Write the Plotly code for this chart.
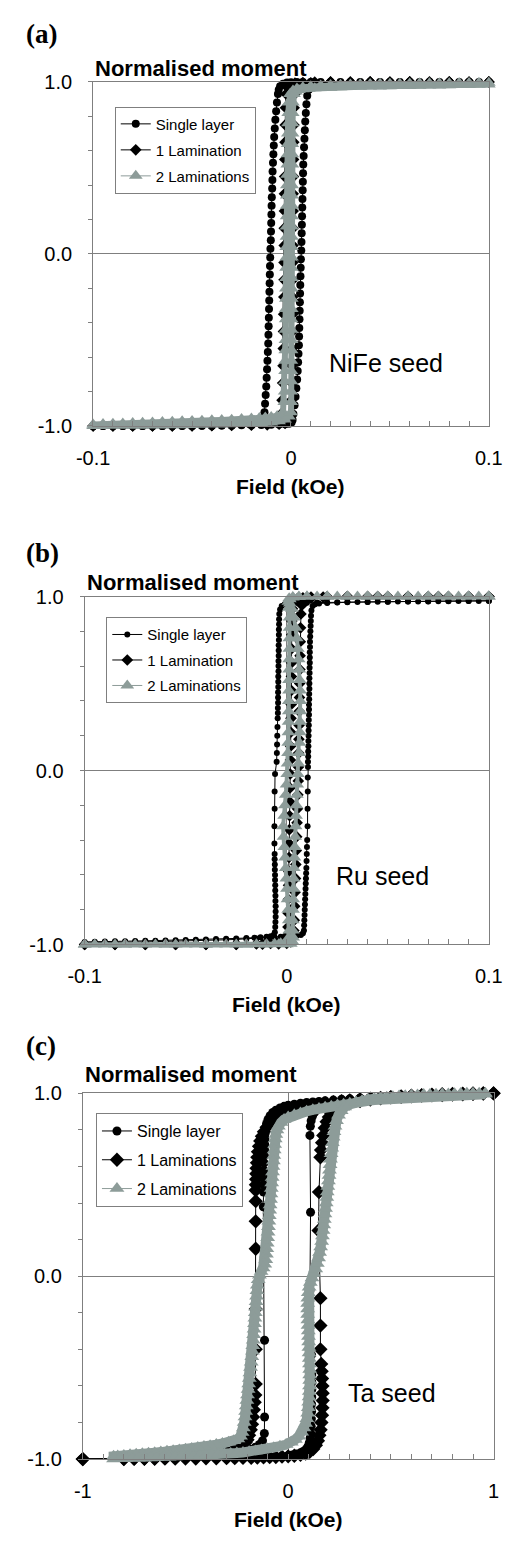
import plotly.graph_objects as go

W, H = 516, 1543

# ---------------- data: field (kOe), normalised moment ----------------
SERIES_AB = ["Single layer", "1 Lamination", "2 Laminations"]
SERIES_C = ["Single layer", "1 Laminations", "2 Laminations"]
SEED_LABELS = ["NiFe seed", "Ru seed", "Ta seed"]
X_TICKS_AB = [-0.1, 0.0, 0.1]
X_TICKTEXT_AB = ["-0.1", "0", "0.1"]
X_TICKS_C = [-1.0, 0.0, 1.0]
X_TICKTEXT_C = ["-1", "0", "1"]
Y_TICKS = [-1.0, 0.0, 1.0]
Y_TICKTEXT = ["-1.0", "0.0", "1.0"]

# ---- (a) NiFe seed ----
A_SINGLE_DOWN = [(0.100,1.000),(0.095,1.000),(0.090,1.000),(0.085,1.000),(0.080,1.000),(0.075,1.000),(0.070,1.000),(0.065,1.000),(0.060,1.000),(0.055,1.000),(0.050,1.000),(0.045,1.000),(0.040,1.000),(0.035,1.000),(0.030,1.000),(0.025,1.000),(0.020,1.000),(0.015,1.000),(0.010,1.000),(0.006,1.000),(0.003,1.000),(0.000,0.999),(-0.002,0.997),(-0.004,0.990),(-0.0055,0.975),(-0.0062,0.955),
    (-0.0066,0.93),(-0.0071,0.88),(-0.0075,0.83),(-0.0079,0.78),(-0.0082,0.73),(-0.0085,0.68),(-0.0087,0.63),(-0.0089,0.58),(-0.0091,0.53),(-0.0093,0.48),(-0.0094,0.43),(-0.0095,0.38),(-0.0097,0.33),(-0.0098,0.28),(-0.0099,0.23),(-0.0100,0.18),(-0.0101,0.13),(-0.0102,0.08),(-0.0104,0.03),(-0.0105,-0.02),(-0.0106,-0.07),(-0.0107,-0.12),(-0.0108,-0.17),(-0.0109,-0.22),(-0.0110,-0.27),(-0.0111,-0.32),(-0.0112,-0.37),(-0.0113,-0.42),(-0.0114,-0.47),(-0.0115,-0.52),(-0.0117,-0.57),(-0.0119,-0.62),(-0.0121,-0.67),(-0.0123,-0.72),(-0.0125,-0.77),(-0.0128,-0.82),(-0.0131,-0.87),(-0.0134,-0.92),
    (-0.0140,-0.950),(-0.0150,-0.968),(-0.0175,-0.980),(-0.0210,-0.988),(-0.0250,-0.992),(-0.0300,-0.995),(-0.0350,-0.997),(-0.0400,-0.998),(-0.0450,-0.999),(-0.0500,-1.000),(-0.0550,-1.000),(-0.0600,-1.000),(-0.0650,-1.000),(-0.0700,-1.000),(-0.0750,-1.000),(-0.0800,-1.000),(-0.0850,-1.000),(-0.0900,-1.000),(-0.0950,-1.000),(-0.1000,-1.000)]
A_SINGLE_UP = [(-0.100,-1.000),(-0.095,-1.000),(-0.090,-1.000),(-0.085,-1.000),(-0.080,-1.000),(-0.075,-1.000),(-0.070,-1.000),(-0.065,-1.000),(-0.060,-0.999),(-0.055,-0.999),(-0.050,-0.999),(-0.045,-0.998),(-0.040,-0.998),(-0.035,-0.997),(-0.030,-0.997),(-0.025,-0.996),(-0.020,-0.995),(-0.015,-0.994),(-0.010,-0.993),(-0.006,-0.992),(-0.003,-0.990),(-0.001,-0.987),(0.0003,-0.980),(0.0008,-0.965),
    (0.0012,-0.93),(0.0018,-0.88),(0.0023,-0.83),(0.0027,-0.78),(0.0031,-0.73),(0.0034,-0.68),(0.0036,-0.63),(0.0038,-0.58),(0.0040,-0.53),(0.0041,-0.48),(0.0042,-0.43),(0.0043,-0.38),(0.0044,-0.33),(0.0045,-0.28),(0.0046,-0.23),(0.0047,-0.18),(0.0048,-0.13),(0.0049,-0.08),(0.0050,-0.03),(0.0052,0.02),(0.0053,0.07),(0.0054,0.12),(0.0055,0.17),(0.0056,0.22),(0.0057,0.27),(0.0058,0.32),(0.0059,0.37),(0.0060,0.42),(0.0061,0.47),(0.0062,0.52),(0.0064,0.57),(0.0066,0.62),(0.0068,0.67),(0.0070,0.72),(0.0072,0.77),(0.0075,0.82),(0.0078,0.87),(0.0082,0.92),
    (0.0090,0.955),(0.0110,0.975),(0.0150,0.985),(0.0200,0.990),(0.0300,0.994),(0.0400,0.996),(0.0500,0.998),(0.0600,0.999),(0.0700,1.000),(0.0800,1.000),(0.0900,1.000),(0.1000,1.000)]
A_LAM1_DOWN = [(0.100,1.0),(0.090,1.0),(0.080,1.0),(0.070,1.0),(0.060,1.0),(0.050,1.0),(0.040,1.0),(0.030,1.0),(0.020,1.0),(0.012,0.999),(0.006,0.997),(0.002,0.993),(0.000,0.985),(-0.0015,0.965),(-0.0025,0.93),
    (-0.0028,0.85),(-0.0029,0.75),(-0.0030,0.65),(-0.0031,0.55),(-0.0032,0.45),(-0.0033,0.35),(-0.0033,0.25),(-0.0034,0.15),(-0.0034,0.05),(-0.0035,-0.05),(-0.0035,-0.15),(-0.0036,-0.25),(-0.0037,-0.35),(-0.0038,-0.45),(-0.0039,-0.55),(-0.0040,-0.65),(-0.0042,-0.75),(-0.0045,-0.85),
    (-0.0050,-0.93),(-0.0060,-0.96),(-0.008,-0.975),(-0.012,-0.985),(-0.020,-0.99),(-0.030,-0.994),(-0.040,-0.996),(-0.050,-0.998),(-0.060,-0.999),(-0.070,-1.0),(-0.080,-1.0),(-0.090,-1.0),(-0.100,-1.0)]
A_LAM1_UP = [(-0.100,-1.0),(-0.090,-1.0),(-0.080,-1.0),(-0.070,-1.0),(-0.060,-1.0),(-0.050,-0.999),(-0.040,-0.998),(-0.030,-0.997),(-0.020,-0.995),(-0.012,-0.993),(-0.006,-0.99),(-0.003,-0.985),(-0.001,-0.97),(0.000,-0.94),
    (0.0002,-0.85),(0.0004,-0.75),(0.0005,-0.65),(0.0006,-0.55),(0.0007,-0.45),(0.0008,-0.35),(0.0008,-0.25),(0.0009,-0.15),(0.0009,-0.05),(0.0010,0.05),(0.0010,0.15),(0.0011,0.25),(0.0011,0.35),(0.0012,0.45),(0.0013,0.55),(0.0014,0.65),(0.0015,0.75),(0.0016,0.85),
    (0.0020,0.93),(0.0030,0.965),(0.005,0.985),(0.010,0.995),(0.020,0.999),(0.040,1.0),(0.060,1.0),(0.080,1.0),(0.100,1.0)]
A_LAM2_DOWN = [(0.100,0.995),(0.095,0.995),(0.090,0.994),(0.085,0.994),(0.080,0.993),(0.075,0.993),(0.070,0.992),(0.065,0.992),(0.060,0.991),(0.055,0.990),(0.050,0.990),(0.045,0.989),(0.040,0.988),(0.035,0.987),(0.030,0.986),(0.025,0.984),(0.020,0.982),(0.015,0.979),(0.010,0.975),(0.006,0.970),(0.003,0.962),(0.001,0.950),(-0.0005,0.93),
    (-0.0012,0.88),(-0.0014,0.82),(-0.0015,0.76),(-0.0016,0.70),(-0.0017,0.64),(-0.0018,0.58),(-0.0019,0.52),(-0.0020,0.46),(-0.0021,0.40),(-0.0021,0.34),(-0.0022,0.28),(-0.0022,0.22),(-0.0023,0.16),(-0.0023,0.10),(-0.0024,0.04),(-0.0024,-0.02),(-0.0025,-0.08),(-0.0025,-0.14),(-0.0026,-0.20),(-0.0026,-0.26),(-0.0027,-0.32),(-0.0027,-0.38),(-0.0028,-0.44),(-0.0028,-0.50),(-0.0029,-0.56),(-0.0029,-0.62),(-0.0030,-0.68),(-0.0031,-0.74),(-0.0032,-0.80),(-0.0034,-0.86),
    (-0.0040,-0.92),(-0.0050,-0.935),(-0.0070,-0.942),(-0.0100,-0.947),(-0.0130,-0.951),(-0.0160,-0.954),(-0.0200,-0.957),(-0.0250,-0.960),(-0.0300,-0.963),(-0.0350,-0.965),(-0.0400,-0.967),(-0.0450,-0.969),(-0.0500,-0.971),(-0.0550,-0.973),(-0.0600,-0.975),(-0.0650,-0.977),(-0.0700,-0.979),(-0.0750,-0.981),(-0.0800,-0.983),(-0.0850,-0.985),(-0.0900,-0.987),(-0.0950,-0.989),(-0.1000,-0.991)]
A_LAM2_UP = [(-0.1000,-1.000),(-0.0950,-1.000),(-0.0900,-0.999),(-0.0850,-0.999),(-0.0800,-0.998),(-0.0750,-0.998),(-0.0700,-0.997),(-0.0650,-0.997),(-0.0600,-0.996),(-0.0550,-0.995),(-0.0500,-0.994),(-0.0450,-0.993),(-0.0400,-0.992),(-0.0350,-0.991),(-0.0300,-0.990),(-0.0250,-0.988),(-0.0200,-0.986),(-0.0150,-0.983),(-0.0100,-0.979),(-0.0060,-0.973),(-0.0030,-0.962),(-0.0010,-0.945),(0.0000,-0.92),
    (0.0001,-0.86),(0.0001,-0.80),(0.0002,-0.74),(0.0002,-0.68),(0.0002,-0.62),(0.0003,-0.56),(0.0003,-0.50),(0.0003,-0.44),(0.0003,-0.38),(0.0004,-0.32),(0.0004,-0.26),(0.0004,-0.20),(0.0004,-0.14),(0.0005,-0.08),(0.0005,-0.02),(0.0005,0.04),(0.0005,0.10),(0.0005,0.16),(0.0006,0.22),(0.0006,0.28),(0.0006,0.34),(0.0006,0.40),(0.0006,0.46),(0.0007,0.52),(0.0007,0.58),(0.0007,0.64),(0.0008,0.70),(0.0008,0.76),(0.0009,0.82),(0.0010,0.88),
    (0.0015,0.93),(0.0025,0.945),(0.004,0.953),(0.006,0.958),(0.009,0.961),(0.012,0.963),(0.016,0.965),(0.020,0.967),(0.025,0.969),(0.030,0.971),(0.035,0.972),(0.040,0.973),(0.045,0.974),(0.050,0.975),(0.055,0.976),(0.060,0.977),(0.065,0.978),(0.070,0.979),(0.075,0.980),(0.080,0.981),(0.085,0.982),(0.090,0.983),(0.095,0.984),(0.100,0.985)]

# ---- (b) Ru seed ----
B_SINGLE_DOWN = [(0.100,0.975),(0.095,0.975),(0.090,0.974),(0.085,0.974),(0.080,0.973),(0.075,0.973),(0.070,0.972),(0.065,0.972),(0.060,0.971),(0.055,0.971),(0.050,0.970),(0.045,0.970),(0.040,0.969),(0.035,0.968),(0.030,0.968),(0.025,0.967),(0.020,0.966),(0.015,0.965),(0.010,0.964),(0.006,0.963),(0.003,0.962),(0.001,0.960),(-0.001,0.955),(-0.0025,0.945),(-0.0033,0.925),(-0.0037,0.900),
    (-0.0038,0.87),(-0.0038,0.84),(-0.0039,0.81),(-0.0039,0.78),(-0.0039,0.75),(-0.0040,0.72),(-0.0040,0.69),(-0.0040,0.66),(-0.0041,0.63),(-0.0041,0.60),(-0.0041,0.57),(-0.0042,0.54),(-0.0042,0.51),(-0.0042,0.48),(-0.0043,0.45),(-0.0043,0.42),(-0.0043,0.39),(-0.0044,0.36),(-0.0044,0.33),(-0.0045,0.30),
    (-0.0046,0.25),(-0.0047,0.20),(-0.0048,0.15),(-0.0049,0.10),(-0.0050,0.05),
    (-0.0058,-0.02),(-0.0060,-0.12),(-0.0060,-0.22),(-0.0061,-0.32),(-0.0061,-0.42),
    (-0.0060,-0.48),(-0.0060,-0.51),(-0.0059,-0.54),(-0.0059,-0.57),(-0.0058,-0.60),(-0.0058,-0.63),(-0.0057,-0.66),(-0.0057,-0.69),(-0.0056,-0.72),(-0.0056,-0.75),(-0.0055,-0.78),(-0.0055,-0.81),(-0.0055,-0.84),(-0.0056,-0.87),(-0.0057,-0.90),(-0.0059,-0.93),
    (-0.0065,-0.945),(-0.0080,-0.952),(-0.0100,-0.956),(-0.0130,-0.959),(-0.0160,-0.961),(-0.0200,-0.963),(-0.0250,-0.965),(-0.0300,-0.967),(-0.0350,-0.969),(-0.0400,-0.971),(-0.0450,-0.972),(-0.0500,-0.974),(-0.0550,-0.975),(-0.0600,-0.977),(-0.0650,-0.978),(-0.0700,-0.979),(-0.0750,-0.980),(-0.0800,-0.981),(-0.0850,-0.982),(-0.0900,-0.983),(-0.0950,-0.984),(-0.1000,-0.985)]
B_SINGLE_UP = [(-0.100,-0.990),(-0.095,-0.990),(-0.090,-0.989),(-0.085,-0.988),(-0.080,-0.987),(-0.075,-0.986),(-0.070,-0.985),(-0.065,-0.984),(-0.060,-0.983),(-0.055,-0.982),(-0.050,-0.980),(-0.045,-0.979),(-0.040,-0.977),(-0.035,-0.975),(-0.030,-0.973),(-0.025,-0.971),(-0.020,-0.968),(-0.015,-0.965),(-0.010,-0.961),(-0.006,-0.958),(-0.003,-0.955),(0.000,-0.952),(0.003,-0.950),(0.005,-0.948),(0.007,-0.945),(0.0080,-0.935),
    (0.0085,-0.92),(0.0086,-0.89),(0.0087,-0.86),(0.0088,-0.83),(0.0089,-0.80),(0.0090,-0.77),(0.0091,-0.74),(0.0092,-0.71),(0.0093,-0.68),(0.0094,-0.65),(0.0095,-0.62),(0.0096,-0.59),(0.0097,-0.56),
    (0.0098,-0.52),(0.0099,-0.48),(0.0100,-0.44),(0.0101,-0.40),
    (0.0103,-0.32),(0.0103,-0.22),(0.0104,-0.12),(0.0104,-0.04),
    (0.0105,0.02),(0.0105,0.05),(0.0106,0.08),(0.0106,0.11),(0.0107,0.14),(0.0107,0.17),(0.0108,0.20),(0.0108,0.23),(0.0109,0.26),(0.0109,0.29),(0.0110,0.32),(0.0110,0.35),(0.0110,0.38),(0.0111,0.41),(0.0111,0.44),(0.0112,0.47),(0.0112,0.50),(0.0112,0.53),(0.0113,0.56),(0.0113,0.59),(0.0114,0.62),(0.0114,0.65),(0.0114,0.68),(0.0115,0.71),(0.0115,0.74),(0.0116,0.77),(0.0117,0.80),(0.0118,0.83),(0.0119,0.86),(0.0120,0.89),(0.0122,0.92),
    (0.0128,0.945),(0.0140,0.955),(0.0160,0.960),(0.0200,0.963),(0.0250,0.965),(0.0300,0.967),(0.0400,0.969),(0.0500,0.970),(0.0600,0.972),(0.0700,0.973),(0.0800,0.974),(0.0900,0.975),(0.1000,0.976)]
B_LAM1_DOWN = [(0.100,1.000),(0.090,1.000),(0.080,1.000),(0.070,1.000),(0.060,1.000),(0.050,1.000),(0.040,1.000),(0.030,1.000),(0.020,0.999),(0.012,0.997),(0.008,0.993),(0.005,0.985),(0.0035,0.965),(0.0028,0.930),
    (0.0025,0.86),(0.0025,0.78),(0.0024,0.70),(0.0024,0.62),(0.0023,0.54),(0.0023,0.46),(0.0022,0.38),(0.0021,0.30),(0.0020,0.22),(0.0019,0.14),(0.0018,0.06),(0.0017,-0.02),(0.0016,-0.10),(0.0015,-0.18),(0.0014,-0.26),(0.0013,-0.34),(0.0012,-0.42),(0.0011,-0.50),(0.0010,-0.58),(0.0009,-0.66),(0.0008,-0.74),(0.0007,-0.82),(0.0006,-0.90),
    (0.0000,-0.950),(-0.0015,-0.975),(-0.0040,-0.988),(-0.0080,-0.994),(-0.0150,-0.997),(-0.0250,-0.999),(-0.0400,-1.000),(-0.0550,-1.000),(-0.0700,-1.000),(-0.0850,-1.000),(-0.1000,-1.000)]
B_LAM1_UP = [(-0.100,-1.000),(-0.085,-1.000),(-0.070,-1.000),(-0.055,-1.000),(-0.040,-1.000),(-0.025,-0.999),(-0.012,-0.998),(-0.004,-0.996),(0.000,-0.993),(0.002,-0.985),(0.0030,-0.960),(0.0035,-0.920),
    (0.0037,-0.86),(0.0039,-0.78),(0.0041,-0.70),(0.0043,-0.62),(0.0045,-0.54),(0.0047,-0.46),(0.0049,-0.38),(0.0051,-0.30),(0.0053,-0.22),(0.0055,-0.14),(0.0057,-0.06),(0.0058,0.02),(0.0059,0.10),(0.0060,0.18),(0.0061,0.26),(0.0062,0.34),(0.0063,0.42),(0.0064,0.50),(0.0065,0.58),(0.0066,0.66),(0.0067,0.74),(0.0068,0.82),(0.0070,0.90),
    (0.0075,0.950),(0.0090,0.975),(0.0120,0.990),(0.0180,0.997),(0.0300,1.000),(0.0450,1.000),(0.0600,1.000),(0.0750,1.000),(0.0900,1.000),(0.1000,1.000)]
B_LAM2_DOWN = [(0.100,1.000),(0.095,1.000),(0.090,1.000),(0.085,1.000),(0.080,1.000),(0.075,1.000),(0.070,1.000),(0.065,1.000),(0.060,1.000),(0.055,1.000),(0.050,1.000),(0.045,1.000),(0.040,1.000),(0.035,1.000),(0.030,1.000),(0.025,1.000),(0.020,1.000),(0.015,1.000),(0.010,1.000),(0.006,0.999),(0.003,0.997),(0.0012,0.99),(0.0008,0.97),(0.0010,0.935),
    (0.0014,0.88),(0.0014,0.82),(0.0013,0.76),(0.0013,0.70),(0.0012,0.64),(0.0012,0.58),(0.0011,0.52),(0.0011,0.46),(0.0010,0.40),(0.0010,0.34),(0.0009,0.28),(0.0008,0.22),(0.0007,0.16),(0.0006,0.10),(0.0004,0.04),(0.0002,-0.02),(-0.0001,-0.08),(-0.0005,-0.14),(-0.0009,-0.20),(-0.0013,-0.26),(-0.0018,-0.32),(-0.0016,-0.38),(-0.0012,-0.44),(-0.0008,-0.50),(-0.0005,-0.56),(-0.0002,-0.62),(0.0001,-0.68),(0.0004,-0.74),(0.0007,-0.80),(0.0010,-0.86),
    (0.0012,-0.92),(0.0010,-0.96),(0.0000,-0.985),(-0.0030,-0.993),(-0.0060,-0.996),(-0.0100,-0.998),(-0.0150,-0.999),(-0.0200,-1.000),(-0.0250,-1.000),(-0.0300,-1.000),(-0.0350,-1.000),(-0.0400,-1.000),(-0.0450,-1.000),(-0.0500,-1.000),(-0.0550,-1.000),(-0.0600,-1.000),(-0.0650,-1.000),(-0.0700,-1.000),(-0.0750,-1.000),(-0.0800,-1.000),(-0.0850,-1.000),(-0.0900,-1.000),(-0.0950,-1.000),(-0.1000,-1.000)]
B_LAM2_UP = [(-0.1000,-1.000),(-0.0800,-1.000),(-0.0600,-1.000),(-0.0400,-1.000),(-0.0200,-1.000),(-0.0100,-1.000),(-0.0040,-0.999),(0.0000,-0.998),(0.0020,-0.995),(0.0030,-0.985),(0.0032,-0.960),(0.0030,-0.920),
    (0.0030,-0.86),(0.0031,-0.80),(0.0032,-0.74),(0.0033,-0.68),(0.0034,-0.62),(0.0035,-0.56),(0.0038,-0.50),(0.0040,-0.44),(0.0042,-0.38),(0.0044,-0.32),(0.0046,-0.26),(0.0048,-0.20),(0.0050,-0.14),(0.0052,-0.08),(0.0055,-0.02),(0.0058,0.04),(0.0061,0.10),(0.0063,0.16),(0.0065,0.22),(0.0066,0.28),(0.0067,0.34),(0.0067,0.40),(0.0066,0.46),(0.0064,0.52),(0.0062,0.58),(0.0059,0.64),(0.0055,0.70),(0.0050,0.76),(0.0044,0.82),(0.0036,0.88),
    (0.0025,0.930),(0.0015,0.960),(0.0015,0.985),(0.0030,0.995),(0.0060,0.999),(0.0100,1.000),(0.0200,1.000),(0.0300,1.000),(0.0400,1.000),(0.0500,1.000),(0.0600,1.000),(0.0700,1.000),(0.0800,1.000),(0.0900,1.000),(0.1000,1.000)]

# ---- (c) Ta seed ----
C_SINGLE_DOWN = [(1.00,1.000),(0.95,0.999),(0.90,0.998),(0.85,0.997),(0.80,0.995),(0.75,0.993),(0.70,0.991),(0.65,0.989),(0.60,0.987),(0.55,0.985),(0.50,0.983),(0.45,0.980),(0.40,0.977),(0.35,0.974),(0.30,0.970),(0.26,0.967),(0.22,0.963),(0.18,0.959),(0.15,0.956),(0.12,0.953),(0.09,0.950),(0.06,0.946),(0.03,0.941),(0.00,0.935),(-0.02,0.929),(-0.04,0.920),(-0.06,0.908),(-0.075,0.895),(-0.088,0.878),(-0.098,0.858),(-0.105,0.835),(-0.110,0.81),
    (-0.112,0.78),(-0.113,0.75),(-0.114,0.72),(-0.115,0.69),(-0.116,0.66),(-0.117,0.62),(-0.118,0.58),(-0.119,0.54),(-0.120,0.50),(-0.120,0.46),
    (-0.121,0.38),(-0.115,-0.35),(-0.115,-0.77),
    (-0.116,-0.86),(-0.125,-0.90),(-0.14,-0.92),(-0.16,-0.935),(-0.19,-0.945),(-0.22,-0.953),(-0.26,-0.96),(-0.30,-0.966),(-0.35,-0.972),(-0.40,-0.977),(-0.45,-0.981),(-0.50,-0.985),(-0.55,-0.988),(-0.60,-0.991),(-0.65,-0.993),(-0.70,-0.995),(-0.75,-0.997),(-0.80,-0.998),(-1.00,-1.0)]
C_SINGLE_UP = [(-1.00,-1.000),(-0.80,-0.999),(-0.75,-0.998),(-0.70,-0.998),(-0.65,-0.997),(-0.60,-0.997),(-0.55,-0.996),(-0.50,-0.996),(-0.45,-0.995),(-0.40,-0.995),(-0.35,-0.994),(-0.30,-0.994),(-0.26,-0.993),(-0.22,-0.993),(-0.18,-0.992),(-0.15,-0.991),(-0.12,-0.990),(-0.09,-0.989),(-0.06,-0.987),(-0.03,-0.985),(0.00,-0.982),(0.02,-0.978),(0.04,-0.973),(0.06,-0.966),(0.075,-0.957),(0.088,-0.945),(0.097,-0.93),(0.103,-0.91),(0.107,-0.885),
    (0.110,-0.86),(0.112,-0.82),(0.113,-0.78),(0.114,-0.74),(0.114,-0.70),(0.115,-0.66),(0.115,-0.62),(0.115,-0.58),(0.115,-0.54),
    (0.114,-0.43),(0.106,-0.08),(0.109,0.35),(0.106,0.77),
    (0.108,0.82),(0.112,0.85),(0.118,0.875),(0.128,0.895),(0.14,0.91),(0.16,0.925),(0.19,0.94),(0.22,0.95),(0.26,0.96),(0.30,0.967),(0.35,0.973),(0.40,0.978),(0.45,0.982),(0.50,0.986),(0.55,0.989),(0.60,0.991),(0.65,0.993),(0.70,0.995),(0.75,0.996),(0.80,0.997),(0.85,0.998),(0.90,0.999),(0.95,1.0),(1.00,1.0)]
C_LAM1_DOWN = [(1.00,1.000),(0.95,0.999),(0.90,0.997),(0.85,0.995),(0.80,0.993),(0.75,0.991),(0.70,0.989),(0.65,0.987),(0.60,0.984),(0.55,0.981),(0.50,0.978),(0.45,0.975),(0.40,0.971),(0.35,0.967),(0.30,0.962),(0.26,0.957),(0.22,0.952),(0.18,0.946),(0.15,0.941),(0.12,0.935),(0.09,0.928),(0.06,0.920),(0.03,0.911),(0.00,0.900),(-0.025,0.888),(-0.05,0.872),(-0.07,0.855),(-0.09,0.835),(-0.105,0.815),(-0.118,0.79),(-0.128,0.765),(-0.136,0.74),(-0.142,0.71),(-0.147,0.68),(-0.150,0.65),(-0.152,0.62),(-0.154,0.59),(-0.155,0.56),(-0.156,0.53),(-0.157,0.50),(-0.158,0.47),
    (-0.158,0.41),(-0.158,0.30),(-0.158,0.15),(-0.158,-0.18),(-0.158,-0.40),(-0.158,-0.59),
    (-0.160,-0.65),(-0.163,-0.69),(-0.167,-0.73),(-0.171,-0.77),(-0.176,-0.81),(-0.182,-0.84),(-0.190,-0.87),(-0.198,-0.895),(-0.207,-0.91),(-0.22,-0.925),(-0.24,-0.94),(-0.27,-0.953),(-0.30,-0.962),(-0.35,-0.972),(-0.40,-0.979),(-0.45,-0.985),(-0.50,-0.989),(-0.55,-0.992),(-0.60,-0.994),(-0.65,-0.996),(-0.70,-0.997),(-0.75,-0.998),(-0.80,-0.999),(-1.00,-1.0)]
C_LAM1_UP = [(-1.00,-1.000),(-0.80,-1.0),(-0.75,-0.999),(-0.70,-0.999),(-0.65,-0.999),(-0.60,-0.998),(-0.55,-0.998),(-0.50,-0.997),(-0.45,-0.997),(-0.40,-0.996),(-0.35,-0.996),(-0.30,-0.995),(-0.26,-0.995),(-0.22,-0.994),(-0.18,-0.993),(-0.15,-0.992),(-0.12,-0.991),(-0.09,-0.990),(-0.06,-0.989),(-0.03,-0.987),(0.00,-0.985),(0.03,-0.982),(0.06,-0.977),(0.085,-0.970),(0.105,-0.960),(0.122,-0.945),(0.135,-0.925),(0.145,-0.90),(0.152,-0.87),(0.158,-0.84),(0.162,-0.80),(0.165,-0.76),(0.167,-0.72),(0.168,-0.68),(0.168,-0.64),(0.167,-0.60),(0.165,-0.56),(0.163,-0.52),(0.161,-0.48),
    (0.157,-0.40),(0.157,-0.27),(0.157,-0.12),(0.148,0.25),(0.150,0.46),(0.157,0.65),
    (0.160,0.69),(0.165,0.73),(0.171,0.77),(0.178,0.81),(0.187,0.845),(0.198,0.87),(0.21,0.89),(0.23,0.91),(0.26,0.93),(0.30,0.945),(0.35,0.957),(0.40,0.966),(0.45,0.973),(0.50,0.979),(0.55,0.983),(0.60,0.987),(0.65,0.990),(0.70,0.993),(0.75,0.995),(0.80,0.997),(0.85,0.998),(0.90,0.999),(0.95,1.0),(1.00,1.0)]
C_LAM2_DOWN = [(0.96,0.995),(0.93,0.994),(0.90,0.993),(0.87,0.992),(0.84,0.991),(0.81,0.990),(0.78,0.989),(0.75,0.988),(0.72,0.986),(0.69,0.985),(0.66,0.983),(0.63,0.981),(0.60,0.979),(0.57,0.977),(0.54,0.975),(0.51,0.972),(0.48,0.969),(0.45,0.966),(0.42,0.963),(0.39,0.959),(0.36,0.955),(0.33,0.951),(0.30,0.946),(0.27,0.941),(0.24,0.936),(0.21,0.930),(0.18,0.924),(0.15,0.917),(0.12,0.910),(0.09,0.902),(0.06,0.893),(0.03,0.883),(0.00,0.870),(-0.02,0.857),(-0.035,0.840),(-0.048,0.82),(-0.055,0.80),(-0.060,0.775),(-0.063,0.75),(-0.066,0.72),(-0.068,0.69),(-0.070,0.66),(-0.072,0.63),(-0.074,0.60),(-0.076,0.57),(-0.078,0.54),(-0.080,0.51),(-0.082,0.48),(-0.084,0.45),(-0.086,0.42),(-0.088,0.39),(-0.090,0.36),(-0.092,0.33),(-0.094,0.30),(-0.096,0.27),(-0.098,0.24),(-0.100,0.21),(-0.102,0.18),(-0.104,0.15),(-0.106,0.12),(-0.109,0.09),(-0.114,0.065),(-0.122,0.045),(-0.132,0.025),(-0.140,0.005),(-0.146,-0.02),(-0.150,-0.05),(-0.152,-0.08),(-0.154,-0.11),(-0.156,-0.14),(-0.158,-0.17),(-0.160,-0.20),(-0.162,-0.23),(-0.164,-0.26),(-0.166,-0.29),(-0.168,-0.32),(-0.170,-0.35),(-0.172,-0.38),(-0.174,-0.41),(-0.177,-0.44),(-0.180,-0.47),(-0.183,-0.50),(-0.186,-0.53),(-0.189,-0.56),(-0.192,-0.59),(-0.195,-0.62),(-0.198,-0.65),(-0.201,-0.68),(-0.204,-0.71),(-0.207,-0.74),(-0.210,-0.77),(-0.214,-0.80),(-0.218,-0.83),(-0.224,-0.855),(-0.232,-0.875),(-0.245,-0.89),(-0.265,-0.90),(-0.29,-0.908),(-0.32,-0.915),(-0.35,-0.921),(-0.38,-0.927),(-0.41,-0.932),(-0.44,-0.937),(-0.47,-0.942),(-0.50,-0.946),(-0.53,-0.950),(-0.56,-0.954),(-0.59,-0.958),(-0.62,-0.962),(-0.65,-0.965),(-0.68,-0.968),(-0.71,-0.971),(-0.74,-0.974),(-0.77,-0.977),(-0.80,-0.980),(-0.83,-0.983),(-0.85,-0.985)]
C_LAM2_UP = [(-0.85,-1.000),(-0.82,-0.999),(-0.79,-0.998),(-0.76,-0.997),(-0.73,-0.996),(-0.70,-0.995),(-0.67,-0.994),(-0.64,-0.993),(-0.61,-0.992),(-0.58,-0.990),(-0.55,-0.989),(-0.52,-0.987),(-0.49,-0.986),(-0.46,-0.984),(-0.43,-0.982),(-0.40,-0.980),(-0.37,-0.978),(-0.34,-0.975),(-0.31,-0.973),(-0.28,-0.970),(-0.25,-0.967),(-0.22,-0.964),(-0.19,-0.960),(-0.16,-0.956),(-0.13,-0.951),(-0.10,-0.945),(-0.07,-0.938),(-0.04,-0.930),(-0.01,-0.920),(0.015,-0.908),(0.035,-0.893),(0.052,-0.875),(0.066,-0.853),(0.077,-0.83),(0.085,-0.805),(0.091,-0.78),(0.095,-0.75),(0.098,-0.72),(0.100,-0.69),(0.102,-0.66),(0.103,-0.63),(0.104,-0.60),(0.105,-0.57),(0.105,-0.54),(0.105,-0.51),(0.104,-0.48),(0.103,-0.45),(0.102,-0.42),(0.101,-0.39),(0.100,-0.36),(0.099,-0.33),(0.098,-0.30),(0.097,-0.27),(0.096,-0.24),(0.095,-0.21),(0.095,-0.18),(0.095,-0.15),(0.096,-0.12),(0.098,-0.09),(0.102,-0.06),(0.108,-0.035),(0.116,-0.01),(0.125,0.015),(0.134,0.04),(0.142,0.07),(0.148,0.10),(0.153,0.13),(0.158,0.16),(0.163,0.19),(0.167,0.22),(0.170,0.25),(0.173,0.28),(0.176,0.31),(0.179,0.34),(0.182,0.37),(0.185,0.40),(0.188,0.43),(0.190,0.46),(0.193,0.49),(0.196,0.52),(0.199,0.55),(0.201,0.58),(0.204,0.61),(0.206,0.64),(0.209,0.67),(0.212,0.70),(0.215,0.73),(0.219,0.76),(0.223,0.79),(0.228,0.82),(0.235,0.85),(0.245,0.88),(0.258,0.905),(0.275,0.925),(0.30,0.94),(0.33,0.952),(0.36,0.960),(0.39,0.966),(0.42,0.971),(0.45,0.975),(0.48,0.979),(0.51,0.982),(0.54,0.985),(0.57,0.987),(0.60,0.989),(0.63,0.991),(0.66,0.993),(0.69,0.994),(0.72,0.995),(0.75,0.996),(0.78,0.997),(0.81,0.998),(0.84,0.999),(0.87,1.0),(0.90,1.0),(0.93,1.0),(0.96,1.0)]

# ---------------- styling / layout ----------------
BLACK = "#000000"
GRAY = "#8d9c99"
AXC = "#7f7f7f"
SANS = "Liberation Sans"
SERIF = "Liberation Serif"


def px_x(p):
    return p / W


def px_y(p):
    return 1 - p / H


# panel geometry in pixels: left, right, top, bottom
PANELS = [
    dict(l=81, r=502, t=72, b=421, lab_y=23, title_y=58, seed_x=330, seed_y=357,
         leg_x=104, leg_y=97, leg_font=15, leg_gap=3.5,
         xr=[-0.1, 0.1], xt=X_TICKS_AB, xtt=X_TICKTEXT_AB, minor=0.01,
         names=SERIES_AB, sizes=(8, 9, 12), band=6,
         data=[(A_SINGLE_DOWN, A_SINGLE_UP), (A_LAM1_DOWN, A_LAM1_UP), (A_LAM2_DOWN, A_LAM2_UP)]),
    dict(l=72, r=502, t=594, b=947, lab_y=550, title_y=580, seed_x=337, seed_y=878,
         leg_x=95, leg_y=615, leg_font=15, leg_gap=3,
         xr=[-0.1, 0.1], xt=X_TICKS_AB, xtt=X_TICKTEXT_AB, minor=0.01,
         names=SERIES_AB, sizes=(6, 9, 12), band=4,
         data=[(B_SINGLE_DOWN, B_SINGLE_UP), (B_LAM1_DOWN, B_LAM1_UP), (B_LAM2_DOWN, B_LAM2_UP)]),
    dict(l=70, r=507, t=1098, b=1469, lab_y=1050, title_y=1079, seed_x=350, seed_y=1402,
         leg_x=84, leg_y=1118, leg_font=16, leg_gap=5,
         xr=[-1.0, 1.0], xt=X_TICKS_C, xtt=X_TICKTEXT_C, minor=0.1,
         names=SERIES_C, sizes=(9, 11, 13), band=10,
         data=[(C_SINGLE_DOWN, C_SINGLE_UP), (C_LAM1_DOWN, C_LAM1_UP), (C_LAM2_DOWN, C_LAM2_UP)]),
]
SYMBOLS = ["circle", "diamond", "triangle-up"]
COLORS = [BLACK, BLACK, GRAY]
PANEL_LABELS = ["(a)", "(b)", "(c)"]

fig = go.Figure()
layout = dict(width=W, height=H, margin=dict(l=0, r=0, t=0, b=0),
              paper_bgcolor="white", plot_bgcolor="white",
              font=dict(family=SANS, color="black"), showlegend=True)
annotations = []

for i, P in enumerate(PANELS):
    sfx = "" if i == 0 else str(i + 1)
    xa, ya = "x" + sfx, "y" + sfx
    leg = "legend" + sfx
    for k in range(3):
        down, up = P["data"][k]
        pts = down + up
        xs = [p[0] for p in pts]
        ys = [p[1] for p in pts]
        if k == 2 and P["band"]:
            # dense overlapping triangles in the original read as a solid band
            fig.add_trace(go.Scatter(
                x=xs, y=ys, mode="lines", xaxis=xa, yaxis=ya, showlegend=False,
                line=dict(color=GRAY, width=P["band"]), cliponaxis=False, hoverinfo="skip"))
        fig.add_trace(go.Scatter(
            x=xs, y=ys,
            mode="lines+markers", name=P["names"][k],
            xaxis=xa, yaxis=ya, legend=leg, legendgroup=f"{i}-{k}",
            line=dict(color=COLORS[k], width=1),
            marker=dict(symbol=SYMBOLS[k], size=P["sizes"][k], color=COLORS[k], line=dict(width=0)),
            cliponaxis=False, hoverinfo="skip"))
    dom_x = [px_x(P["l"]), px_x(P["r"])]
    dom_y = [px_y(P["b"]), px_y(P["t"])]
    layout["xaxis" + sfx] = dict(
        domain=dom_x, anchor=ya, range=P["xr"], tickmode="array", tickvals=P["xt"], ticktext=P["xtt"],
        ticks="inside", ticklen=5, tickcolor=AXC, tickwidth=1,
        minor=dict(tickmode="linear", tick0=0, dtick=P["minor"], ticks="inside", ticklen=5, tickcolor=AXC),
        showline=True, linecolor=AXC, linewidth=1, mirror=True,
        zeroline=True, zerolinecolor=AXC, zerolinewidth=1, showgrid=False,
        tickfont=dict(family=SANS, size=20, color="black"), ticklabelstandoff=14, fixedrange=True)
    layout["yaxis" + sfx] = dict(
        domain=dom_y, anchor=xa, range=[-1, 1], tickmode="array", tickvals=Y_TICKS, ticktext=Y_TICKTEXT,
        ticks="outside", ticklen=4, tickcolor=AXC, tickwidth=1,
        minor=dict(tickmode="linear", tick0=0, dtick=0.2, ticks="outside", ticklen=4, tickcolor=AXC),
        showline=True, linecolor=AXC, linewidth=1, mirror=True,
        zeroline=True, zerolinecolor=AXC, zerolinewidth=1, showgrid=False,
        tickfont=dict(family=SANS, size=20, color="black"), ticklabelstandoff=12, fixedrange=True)
    layout[leg] = dict(
        x=px_x(P["leg_x"]), y=px_y(P["leg_y"]), xanchor="left", yanchor="top",
        bgcolor="white", bordercolor=AXC, borderwidth=1,
        font=dict(family=SANS, size=P["leg_font"], color="black"),
        traceorder="grouped", tracegroupgap=P["leg_gap"])
    annotations += [
        dict(text="<b>" + PANEL_LABELS[i] + "</b>", x=px_x(7), y=px_y(P["lab_y"]),
             font=dict(family=SERIF, size=27, color="black")),
        dict(text="<b>Normalised moment</b>", x=px_x(P["l"]), y=px_y(P["title_y"]),
             font=dict(family=SANS, size=22, color="black")),
        dict(text="<b>Field (kOe)</b>", x=px_x((P["l"] + P["r"]) / 2), y=px_y(P["b"] + 61),
             xanchor="center", font=dict(family=SANS, size=21, color="black")),
        dict(text=SEED_LABELS[i], x=px_x(P["seed_x"]), y=px_y(P["seed_y"]),
             font=dict(family=SANS, size=25, color="black")),
    ]

for a in annotations:
    a.setdefault("xanchor", "left")
    a.update(xref="paper", yref="paper", yanchor="middle", showarrow=False)
layout["annotations"] = annotations
fig.update_layout(**layout)
fig.write_html("out.html")
